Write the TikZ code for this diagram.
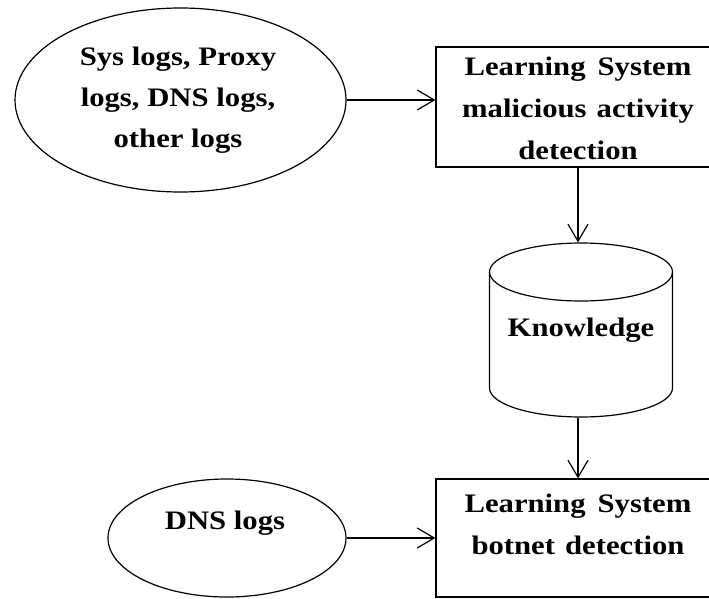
\documentclass[tikz,border=0pt]{standalone}
\usepackage{fontspec}
\setmainfont{Liberation Serif}[FakeStretch=1.15]
\usetikzlibrary{arrows.meta,shapes.geometric}
\begin{document}
\begin{tikzpicture}[x=1pt,y=-1pt, line width=1.2pt,
  arr/.style={-{Straight Barb[length=17pt,width=20pt,line width=1.2pt]}},
  txt/.style={font=\fontsize{26.7}{41}\selectfont\bfseries, align=center, inner sep=0pt},
  boxnode/.style={draw, rectangle, inner sep=0pt},
  ellnode/.style={draw, ellipse, inner sep=0pt}]
\useasboundingbox (0,0) rectangle (709,599);
\clip (0,0) rectangle (709,599);
% source ellipse
\node[ellnode, minimum width=331pt, minimum height=184pt] (e1) at (180.5,100) {};
\node[txt] (t1) at (178,100) {Sys logs, Proxy\\logs, DNS logs,\\other logs};
% box 1
\node[boxnode, minimum width=284pt, minimum height=120pt] (b1) at (578,107) {};
\node[txt, font=\fontsize{26.7}{42}\selectfont\bfseries] (t2) at (578,108.5) {Learning\hspace{12pt}System\\malicious\hspace{10pt}activity\\detection};
% knowledge cylinder
\node[minimum width=183pt, minimum height=174pt, inner sep=0pt, txt] (kb) at (581,330) {Knowledge};
\draw (581,272) ellipse [x radius=91.5, y radius=29];
\draw (489.5,272) -- (489.5,388) arc[start angle=180, end angle=0, x radius=91.5, y radius=29] -- (672.5,272);
% box 2
\node[boxnode, minimum width=284pt, minimum height=118pt] (b2) at (578,538) {};
\node[txt, font=\fontsize{26.7}{42}\selectfont\bfseries] (t3) at (578,524) {Learning\hspace{12pt}System\\botnet\hspace{10pt}detection};
% DNS ellipse
\node[ellnode, minimum width=238pt, minimum height=118pt] (e2) at (227,538) {};
\node[txt] (t4) at (225,523) {DNS logs};
% connectors
\draw[arr] (e1.east) -- (b1.west |- e1.east);
\draw[arr] (b1.south) -- (b1.south |- kb.north);
\draw[arr] (kb.south -| b1.south) -- (b2.north);
\draw[arr] (e2.east) -- (b2.west |- e2.east);
\end{tikzpicture}
\end{document}
